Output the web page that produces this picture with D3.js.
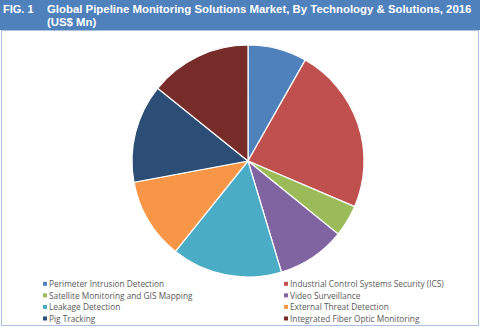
<!DOCTYPE html>
<html>
<head>
<meta charset="utf-8">
<script src="https://cdn.jsdelivr.net/npm/d3@7/dist/d3.min.js"></script>
<style>
  html, body { margin: 0; padding: 0; background: #fff; }
  svg { display: block; }
</style>
</head>
<body>
<script>
// Market share by technology & solution, 2016 (US$ Mn)
const categories = [
  "Perimeter Intrusion Detection",
  "Industrial Control Systems Security (ICS)",
  "Satellite Monitoring and GIS Mapping",
  "Video Surveillance",
  "Leakage Detection",
  "External Threat Detection",
  "Pig Tracking",
  "Integrated Fiber Optic Monitoring"
];
const values = [8.2, 23.2, 4.4, 9.5, 15.4, 11.3, 13.7, 14.2];
const colors = ["#4F81BD", "#C0504D", "#9BBB59", "#8064A2", "#4BACC6", "#F79646", "#2C4D75", "#772C2A"];
const figLabel = "FIG. 1";
const titleLines = [
  "Global Pipeline Monitoring Solutions Market, By Technology & Solutions, 2016",
  "(US$ Mn)"
];

const W = 480, H = 327;
const svg = d3.select("body").append("svg").attr("width", W).attr("height", H);

// Header band
svg.append("rect").attr("x", 0).attr("y", 0).attr("width", W).attr("height", 30).attr("fill", "#4F81BD");
svg.append("text").attr("x", 3).attr("y", 13)
  .attr("font-family", "Liberation Sans, Arial, sans-serif").attr("font-weight", "bold")
  .attr("font-size", 11).attr("fill", "#fff").text(figLabel);
svg.selectAll("text.title").data(titleLines).join("text").attr("class", "title")
  .attr("x", 47).attr("y", (d, i) => 13 + i * 13)
  .attr("font-family", "Liberation Sans, Arial, sans-serif").attr("font-weight", "bold")
  .attr("font-size", 11.4).attr("fill", "#fff").text(d => d);

// Chart frame
svg.append("rect").attr("x", 1.5).attr("y", 30.5).attr("width", W - 3).attr("height", H - 32)
  .attr("fill", "none").attr("stroke", "#A9C1DE").attr("stroke-width", 1);

// Pie
const cx = 248, cy = 161, r = 116;
const pie = d3.pie().sort(null).value(d => d)(values);
const arc = d3.arc().innerRadius(0).outerRadius(r);
svg.append("g").attr("transform", `translate(${cx},${cy})`)
  .selectAll("path").data(pie).join("path")
  .attr("d", arc)
  .attr("fill", (d, i) => colors[i])
  .attr("stroke", "#fff").attr("stroke-width", 1.2);

// Legend (two columns)
const legX = [43, 284], legY0 = 284.3, legDy = 11.55;
const leg = svg.append("g");
categories.forEach((c, i) => {
  const col = i % 2, row = Math.floor(i / 2);
  const x = legX[col], y = legY0 + row * legDy;
  leg.append("rect").attr("x", x).attr("y", y - 2.5).attr("width", 4).attr("height", 4).attr("fill", colors[i]);
  leg.append("text").attr("x", x + 6).attr("y", y).attr("dy", "0.35em")
    .attr("font-family", "Open Sans, sans-serif").attr("font-size", 8.3)
    .attr("fill", "#595959").text(c);
});
</script>
</body>
</html>
